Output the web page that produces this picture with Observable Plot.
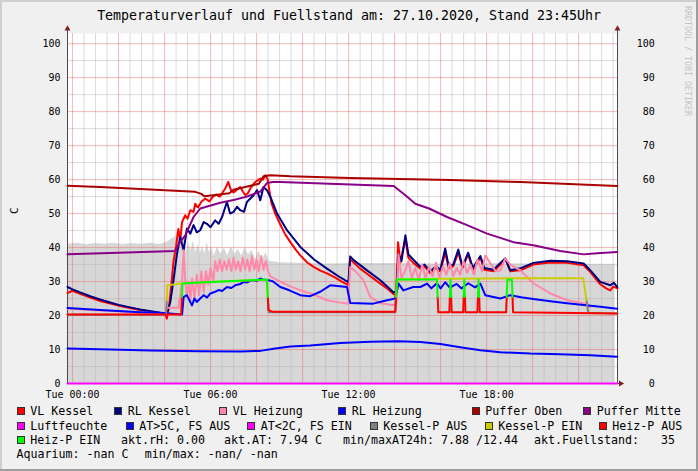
<!DOCTYPE html>
<html><head><meta charset="utf-8">
<script src="https://cdn.jsdelivr.net/npm/d3@7"></script>
<script src="https://cdn.jsdelivr.net/npm/@observablehq/plot@0.6"></script>
<style>
body{margin:0;background:#f0f0f0;}
#root{position:relative;width:698px;height:471px;background:#f0f0f0;overflow:hidden;font-family:"DejaVu Sans Mono",monospace;color:#000;box-sizing:border-box;}
.t{position:absolute;white-space:pre;line-height:14px;font-size:11.63px;}
.box{position:absolute;width:6px;height:6px;border:1px solid #333;}
#chart{position:absolute;left:0;top:20px;}
</style></head><body><div id="root"></div>
<script>
// ---- data (hours since Tue 00:00, value) ----
const xDomain = [-0.22, 23.69];
const yDomain = [0, 103];
const yTicks = [0,10,20,30,40,50,60,70,80,90,100];
const xTickHours = [0, 6, 12, 18];
const xTickLabels = ["Tue 00:00", "Tue 06:00", "Tue 12:00", "Tue 18:00"];

const fuellstand = [[-0.22,41.0],[0.2,41.3],[0.6,40.8],[1.0,41.2],[1.4,41.0],[1.8,41.3],[2.2,40.9],[2.6,41.2],[3.0,41.0],[3.4,41.3],[3.8,40.9],[4.1,41.5],[4.3,42.5],[4.45,43.0],[4.55,44.6],[4.65,42],[4.75,41],[4.85,42.5],[4.95,38.5],[5.05,41.5],[5.15,39],[5.25,42],[5.35,38.5],[5.45,41],[5.55,38.2],[5.65,40.5],[5.75,38],[5.85,41.5],[5.95,38.5],[6.05,40],[6.15,37.5],[6.3,40.2],[6.45,38],[6.6,39.8],[6.75,37.7],[6.9,40.2],[7.05,38],[7.2,39.5],[7.35,37.5],[7.5,40],[7.65,37.8],[7.8,39.2],[7.95,36.5],[8.1,39],[8.25,36.2],[8.4,38.5],[8.55,36],[8.7,35.8],[9.0,35.5],[10,35.4],[11,35.2],[12,35.3],[14,35.3],[16,35.2],[18,35.3],[20,35.2],[22,35.1],[23.58,35.1]];

const vlKessel = [[-0.22,26.6],[-0.1,27.0],[0.0,27.3],[0.33,26.4],[0.8,25.2],[1.2,24.3],[1.6,23.6],[2.07,22.8],[2.5,22.2],[2.94,21.6],[3.4,21.1],[3.81,20.7],[4.03,20.4],[4.1,19.1],[4.2,23.0],[4.32,31.0],[4.39,36.0],[4.5,40.5],[4.6,45.5],[4.68,42.0],[4.76,47.5],[4.9,49.5],[5.0,48.5],[5.12,51.0],[5.26,50.5],[5.33,52.9],[5.45,51.8],[5.6,53.5],[5.77,54.4],[5.95,53.6],[6.1,55.0],[6.25,55.6],[6.4,55.0],[6.55,56.5],[6.64,57.4],[6.77,59.3],[6.88,57.0],[7.0,56.2],[7.15,57.0],[7.29,57.8],[7.4,56.5],[7.51,55.4],[7.62,56.0],[7.73,57.4],[7.85,58.5],[7.94,59.3],[8.05,59.8],[8.16,60.3],[8.28,60.0],[8.38,61.3],[8.48,60.2],[8.55,57.0],[8.65,53.0],[8.81,50.0],[9.03,46.8],[9.25,43.8],[9.47,41.6],[9.7,39.4],[9.9,37.7],[10.2,35.6],[10.48,34.3],[10.77,33.2],[11.06,32.4],[11.4,31.2],[11.7,30.0],[11.93,29.2],[12.0,29.0],[12.07,36.5],[12.22,35.6],[12.5,33.8],[12.8,32.3],[13.1,30.8],[13.38,29.4],[13.7,27.8],[13.96,26.3],[14.07,26.0],[14.15,41.6],[14.25,35.5],[14.35,39.0],[14.47,42.5],[14.6,37.0],[14.81,35.5],[15.12,33.8],[15.3,34.5],[15.55,32.5],[15.75,34.0],[15.99,33.0],[16.2,38.5],[16.35,34.0],[16.55,34.5],[16.77,38.5],[16.95,34.0],[17.2,38.0],[17.4,33.5],[17.73,37.0],[17.9,33.5],[18.3,33.0],[18.6,35.0],[18.81,36.8],[19.03,33.0],[19.47,33.3],[20.03,35.0],[20.77,35.6],[21.5,35.5],[22.22,34.8],[22.51,32.8],[22.94,29.2],[23.2,28.0],[23.38,27.4],[23.5,28.5],[23.68,28.0]];

const rlKessel = [[-0.22,28.4],[0.0,27.7],[0.33,26.8],[0.8,25.6],[1.2,24.7],[1.6,23.9],[2.07,23.0],[2.5,22.4],[2.94,21.8],[3.4,21.3],[3.81,20.8],[4.1,20.5],[4.25,24.0],[4.39,30.4],[4.54,38.2],[4.68,43.1],[4.83,39.2],[4.97,45.6],[5.12,44.1],[5.26,46.6],[5.4,44.5],[5.55,45.1],[5.7,47.5],[5.84,47.0],[6.0,46.0],[6.2,48.0],[6.35,47.0],[6.5,49.0],[6.71,53.4],[6.85,50.0],[7.0,50.5],[7.15,52.0],[7.29,51.0],[7.45,50.5],[7.58,53.4],[7.87,55.4],[8.02,56.9],[8.16,53.9],[8.3,57.8],[8.45,56.9],[8.6,54.9],[8.89,50.0],[9.32,45.1],[9.9,40.2],[10.5,36.5],[11.06,33.8],[11.64,31.2],[11.99,29.8],[12.07,37.4],[12.22,36.3],[12.8,33.3],[13.38,30.4],[13.96,26.8],[14.07,27.2],[14.17,38.0],[14.3,36.0],[14.47,43.6],[14.6,38.0],[14.81,36.5],[15.12,34.3],[15.3,35.0],[15.55,33.0],[15.8,34.5],[15.99,33.5],[16.2,39.7],[16.35,34.5],[16.55,35.0],[16.77,39.4],[16.95,34.5],[17.2,38.5],[17.4,34.0],[17.73,37.5],[17.9,34.0],[18.3,33.5],[18.6,35.5],[18.81,36.8],[19.03,33.3],[19.47,33.9],[20.03,35.5],[20.77,36.1],[21.5,36.0],[22.22,35.3],[22.51,33.3],[22.94,29.9],[23.38,28.9],[23.53,29.6],[23.68,28.4]];

const vlHeizung = [[-0.22,22.0],[2.07,21.2],[4.03,20.6],[4.1,22.3],[4.6,22.3],[4.76,30],[4.83,39.2],[4.9,30],[4.97,25.5],[5.05,30],[5.12,24.5],[5.2,31],[5.3,25],[5.4,32],[5.5,26],[5.6,33],[5.7,27],[5.8,33],[5.9,29],[6.0,34],[6.12,30],[6.2,36],[6.3,33],[6.4,36.5],[6.5,33],[6.6,36],[6.7,33.5],[6.8,36.5],[6.9,33],[7.0,37],[7.1,33.5],[7.2,36],[7.3,33],[7.4,37],[7.5,33.5],[7.6,36.5],[7.7,33],[7.8,37.5],[7.9,33.5],[8.0,36.5],[8.1,33],[8.2,37.5],[8.3,33.5],[8.4,36],[8.5,33],[8.6,31.5],[9.03,30.0],[9.5,28.5],[10.0,27.2],[10.48,26.2],[11.06,24.5],[11.64,23.8],[11.99,23.5],[12.07,34.3],[12.3,33.0],[12.64,30.4],[12.94,25.5],[13.38,23.6],[13.96,23.0],[14.07,23.0],[14.17,38.0],[14.3,31.0],[14.45,33.0],[14.6,36.0],[14.75,31.0],[14.9,34.0],[15.05,30.5],[15.2,35.0],[15.35,31.0],[15.5,34.5],[15.65,31.5],[15.8,35.5],[15.95,31.0],[16.1,34.5],[16.25,32.0],[16.4,35.5],[16.55,31.5],[16.7,34.0],[16.85,32.0],[17.0,36.0],[17.15,32.5],[17.3,35.0],[17.45,32.0],[17.6,36.5],[17.8,33.0],[17.94,37.7],[18.2,35.0],[18.4,33.0],[18.6,33.3],[18.81,36.8],[19.03,35.0],[19.47,33.3],[20.03,29.5],[20.77,26.5],[21.5,24.5],[22.22,23.6],[22.5,22.5]];

const rlHeizung = [[-0.22,22.2],[1.2,21.6],[2.94,21.0],[3.81,20.8],[4.76,20.3],[4.83,25.5],[4.97,26],[5.19,23],[5.3,25],[5.4,24],[5.55,25],[5.7,26],[5.84,25.3],[5.99,26.5],[6.2,27],[6.35,27.5],[6.5,27.2],[6.71,28.4],[6.9,28.1],[7.1,29],[7.3,29.3],[7.43,29.9],[7.6,29.8],[7.8,30.4],[8.0,30.2],[8.16,30.9],[8.3,30.5],[8.52,30.4],[8.7,30.1],[9.03,28.4],[9.4,27.5],[9.9,26],[10.33,25.7],[10.77,27],[11.2,28.9],[11.93,28.4],[12.07,23.7],[13.07,23.5],[13.67,24.5],[14.03,25],[14.17,29.4],[14.38,27.4],[14.81,28.4],[15.12,28.4],[15.41,29.4],[15.6,28],[15.84,29.5],[16.0,28],[16.2,29.8],[16.4,28.2],[16.7,29.3],[16.9,28],[17.2,29.5],[17.5,28.3],[17.73,29.4],[17.94,26],[18.6,25],[19.03,26],[19.5,25.4],[20.03,24.9],[20.77,24.2],[21.5,23.6],[22.22,23.1],[22.94,22.6],[23.68,22.0]];

const pufferOben = [[-0.22,58.2],[1.2,57.8],[3.38,57.1],[5.33,56.4],[5.6,55.8],[5.73,55.1],[6.2,55.5],[6.81,56.0],[7.0,57.0],[7.73,58.2],[8.1,58.8],[8.3,61.0],[8.6,61.3],[9.47,61.0],[12.07,60.5],[16.42,59.9],[19.47,59.3],[23.68,58.1]];

const pufferMitte = [[-0.22,38.0],[2.0,38.5],[4.47,39.0],[4.61,41.0],[4.9,43.6],[5.26,49.0],[5.55,51.5],[6.42,53.2],[7.0,54.0],[7.58,55.0],[8.16,56.5],[8.45,59.0],[8.7,59.3],[9.03,59.3],[13.96,58.1],[14.47,55.4],[14.9,52.9],[15.5,51.5],[16.28,49.0],[17.15,46.6],[18.02,44.1],[19.17,41.6],[20.03,40.7],[21.2,39.0],[22.22,38.0],[22.8,38.3],[23.68,38.7]];

const luftfeuchte = [[-0.22,0],[23.68,0]];

const aussenTemp = [[-0.22,10.3],[1.2,10.1],[3.38,9.7],[5.55,9.5],[7.29,9.4],[8.16,9.6],[8.81,10.3],[9.47,10.9],[10.33,11.2],[11.64,11.9],[12.94,12.3],[14.2,12.44],[15.12,12.2],[15.99,11.6],[16.85,10.7],[17.73,9.8],[18.6,9.2],[19.9,8.8],[21.2,8.6],[22.5,8.3],[23.68,7.9]];

const kesselPumpe = [[-0.22,20.2],[4.07,20.2],[4.12,28.9],[4.5,29.2],[4.72,29.5],[6,29.9],[7,30.2],[8.45,30.5],[8.52,21.0],[14.03,21.0],[14.1,30.6],[16,30.8],[18,30.9],[20,31.0],[22.2,31.0],[22.42,20.8],[23.68,20.6]];

const heizPumpe = [[-0.22,20.3],[4.72,20.3],[4.78,29.4],[5.5,29.7],[6.5,30.0],[7.5,30.3],[8.45,30.6],[8.52,21.6],[8.7,21.1],[14.03,21.1],[14.1,30.6],[15.84,30.6],[15.9,21.0],[16.38,21.0],[16.43,30.5],[16.48,21.0],[16.98,21.0],[17.03,30.5],[17.08,21.0],[17.6,21.0],[17.65,30.5],[17.7,21.0],[18.85,21.0],[18.9,30.5],[19.1,30.5],[19.15,21.0],[23.68,20.6]];

// ---- colours ----
const C = {
  vlKessel:"#ff0000", rlKessel:"#000080", vlHeizung:"#ff88aa", rlHeizung:"#0000ff",
  pufferOben:"#aa0000", pufferMitte:"#880088", luft:"#ff00ff", at5:"#0000ff", at2:"#ff00ff",
  kpAus:"#808080", kpEin:"#cccc00", hpAus:"#ff0000", hpEin:"#00ff00"
};

function runs(points, level) {
  const res = []; let id = 0; let cur = points[0][1] >= level;
  res.push({x: points[0][0], y: points[0][1], run: id, hi: cur});
  for (let i = 1; i < points.length; i++) {
    const a = points[i-1], b = points[i], bh = b[1] >= level;
    if (bh !== cur) {
      const t = (level - a[1]) / (b[1] - a[1]);
      const mx = a[0] + t * (b[0] - a[0]);
      res.push({x: mx, y: level, run: id, hi: cur});
      id++; cur = bh;
      res.push({x: mx, y: level, run: id, hi: cur});
    }
    res.push({x: b[0], y: b[1], run: id, hi: cur});
  }
  return res;
}
const kp = runs(kesselPumpe, 24.5);
const hp = runs(heizPumpe, 25.5);

const majorX = d3.range(0, 23, 2);
const minorX = d3.range(0.5, 23.7, 0.5).filter(d => d % 2 !== 0);
const majorY = yTicks;
const minorY = d3.range(5, 100, 10);

const L = (data, color, extra={}) => Plot.line(data, {x: d => d[0], y: d => d[1], stroke: color, strokeWidth: 2, strokeLinejoin: "round", ...extra});

const chart = Plot.plot({
  width: 698, height: 385,
  marginLeft: 67, marginRight: 81, marginTop: 13, marginBottom: 22,
  x: {domain: xDomain, axis: null},
  y: {domain: yDomain, axis: null},
  style: {background: "transparent", fontFamily: "'DejaVu Sans Mono', monospace", fontSize: "9.97px", color: "#000", overflow: "visible"},
  marks: [
    Plot.frame({fill: "#ffffff", stroke: "none"}),
    Plot.areaY(fuellstand, {x: d => d[0], y: d => d[1], fill: "#d7d7d7"}),
    Plot.ruleX(minorX, {stroke: "#b8b8b8", strokeOpacity: 0.5}),
    Plot.ruleY(minorY, {stroke: "#b8b8b8", strokeOpacity: 0.5}),
    Plot.ruleX(majorX, {stroke: "#f06060", strokeOpacity: 0.45}),
    Plot.ruleY(majorY, {stroke: "#f06060", strokeOpacity: 0.45}),
    Plot.ruleX([xDomain[0]], {y1: 0, y2: 104.2, stroke: "#4a4a4a"}),
    Plot.ruleX([xDomain[1]], {y1: 0, y2: 104.2, stroke: "#4a4a4a"}),
    Plot.ruleY([0], {x1: xDomain[0], x2: 23.78, stroke: "#4a4a4a"}),
    Plot.dot([[xDomain[0], 104.4], [xDomain[1], 104.4]], {x: d => d[0], y: d => d[1], symbol: "triangle", r: 2.2, fill: "#801f1f", stroke: "none"}),
    Plot.dot([[23.83, 0]], {x: d => d[0], y: d => d[1], symbol: "triangle", r: 2.2, rotate: 90, fill: "#801f1f", stroke: "none"}),
    L(vlKessel, C.vlKessel),
    L(rlKessel, C.rlKessel),
    L(vlHeizung, C.vlHeizung),
    L(rlHeizung, C.rlHeizung),
    L(pufferOben, C.pufferOben),
    L(pufferMitte, C.pufferMitte),
    L(luftfeuchte, C.luft),
    L(aussenTemp, C.at5),
    Plot.line(kp.filter(d => !d.hi), {x: "x", y: "y", z: "run", stroke: C.kpAus, strokeWidth: 2}),
    Plot.line(kp.filter(d => d.hi), {x: "x", y: "y", z: "run", stroke: C.kpEin, strokeWidth: 2}),
    Plot.line(hp.filter(d => !d.hi), {x: "x", y: "y", z: "run", stroke: C.hpAus, strokeWidth: 2}),
    Plot.line(hp.filter(d => d.hi), {x: "x", y: "y", z: "run", stroke: C.hpEin, strokeWidth: 2}),
    Plot.text(yTicks, {x: xDomain[0], y: d => d, text: d => String(d), dx: -7, textAnchor: "end", fontSize: 9.97, fill: "#000"}),
    Plot.text(yTicks, {x: xDomain[1], y: d => d, text: d => String(d), dx: 37.3, textAnchor: "end", fontSize: 9.97, fill: "#000"}),
    Plot.text(xTickHours, {x: d => d, y: 0, text: (d, i) => xTickLabels[i], lineAnchor: "top", dy: 7, fontSize: 9.97, fill: "#000"})
  ]
});

const root = document.getElementById("root");
const wrap = document.createElement("div"); wrap.id = "chart"; wrap.appendChild(chart); root.appendChild(wrap);

function addText(txt, left, top, size, extra) {
  const s = document.createElement("span"); s.className = "t"; s.textContent = txt;
  s.style.left = left + "px"; s.style.top = top + "px";
  if (size) s.style.fontSize = size + "px";
  if (extra) Object.assign(s.style, extra);
  root.appendChild(s); return s;
}
function addBox(color, left, cy) {
  const b = document.createElement("div"); b.className = "box";
  b.style.left = left + "px"; b.style.top = (cy - 4) + "px"; b.style.background = color;
  root.appendChild(b);
}

addText("Temperaturverlauf und Fuellstand am: 27.10.2020, Stand 23:45Uhr", 0, 8, 13.29, {width: "698px", textAlign: "center", lineHeight: "16px"});
addText("RRDTOOL / TOBI OETIKER", 693, 6, 8.3, {color: "#c4c4c4", transformOrigin: "0 0", transform: "rotate(90deg)", lineHeight: "10px"});
addText("C", 8, 214, 11, {transformOrigin: "0 0", transform: "rotate(-90deg)"});

const rows = [411.2, 425.5, 439.5, 453.8];
const legendItems = [
  [0, "VL Kessel", C.vlKessel, 16.5], [0, "RL Kessel", C.rlKessel, 114], [0, "VL Heizung", C.vlHeizung, 219],
  [0, "RL Heizung", C.rlHeizung, 338], [0, "Puffer Oben", C.pufferOben, 471.5], [0, "Puffer Mitte", C.pufferMitte, 583],
  [1, "Luftfeuchte", C.luft, 16.5], [1, "AT>5C, FS AUS", C.at5, 125.5], [1, "AT<2C, FS EIN", C.at2, 247],
  [1, "Kessel-P AUS", C.kpAus, 369.5], [1, "Kessel-P EIN", C.kpEin, 484.5], [1, "Heiz-P AUS", C.hpAus, 598.5],
  [2, "Heiz-P EIN", C.hpEin, 16.5]
];
for (const [r, label, col, x] of legendItems) {
  addBox(col, x, rows[r]);
  addText(label, x + 13.8, rows[r] - 6.8);
}
const infoTexts = [
  [2, "akt.rH: 0.00", 121], [2, "akt.AT: 7.94 C", 224], [2, "min/maxAT24h: 7.88 /12.44", 343],
  [2, "akt.Fuellstand:", 534], [2, "35", 661],
  [3, "Aquarium: -nan C", 16.5], [3, "min/max: -nan/ -nan", 144.7]
];
for (const [r, txt, x] of infoTexts) addText(txt, x, rows[r] - 6.8);

const sh = (css) => { const d = document.createElement("div"); d.style.position = "absolute"; Object.assign(d.style, css); root.appendChild(d); };
sh({left:"0px", top:"0px", width:"698px", height:"2px", background:"#cfcfcf"});
sh({left:"0px", top:"0px", width:"2px", height:"471px", background:"#cfcfcf"});
sh({left:"696px", top:"0px", width:"2px", height:"471px", background:"#9e9e9e"});
sh({left:"0px", top:"469px", width:"698px", height:"2px", background:"#9e9e9e"});
</script></body></html>
